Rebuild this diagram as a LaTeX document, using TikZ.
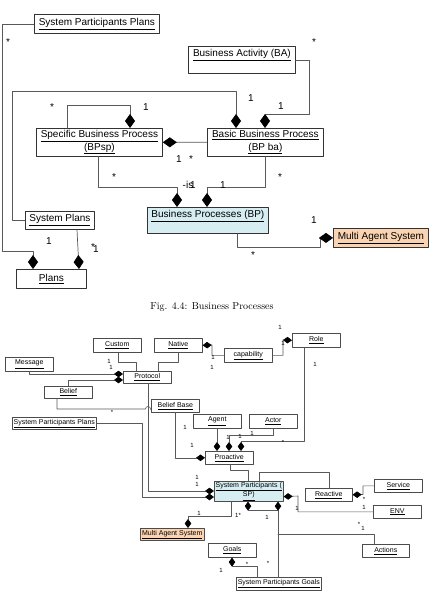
\documentclass[tikz,border=0pt]{standalone}
\usepackage{fontspec}
\newfontfamily\umlfont{Liberation Sans}
\usepackage{tikz}
\usetikzlibrary{arrows.meta}
\usetikzlibrary{calc}
\definecolor{spcyan}{rgb}{0.84,0.93,0.95}
\definecolor{masorange}{rgb}{0.98,0.83,0.70}
\definecolor{linegray}{rgb}{0.35,0.35,0.35}

\tikzset{
	bigbox/.style={draw=black!80, line width=0.8pt, anchor=north west, inner sep=2pt, align=center, font=\umlfont\fontsize{10}{12.5}\selectfont},
	smallbox/.style={draw=black!70, line width=0.6pt, anchor=north west, inner sep=1pt, align=center, minimum width=48pt, minimum height=14pt, font=\umlfont\fontsize{7}{8.5}\selectfont},
	toptext/.style={text height=8pt, text depth=#1},
	biglink/.style={draw=linegray, line width=0.7pt},
	smalllink/.style={draw=linegray, line width=0.6pt},
	bigagg/.style={biglink, -{Diamond[length=14pt, width=10pt, color=black]}},
	smallagg/.style={smalllink, -{Diamond[length=9pt, width=6.5pt, color=black]}},
	biglbl/.style={inner sep=0pt, font=\umlfont\fontsize{10}{12}\selectfont},
	smalllbl/.style={inner sep=0pt, font=\umlfont\fontsize{6}{7}\selectfont}
}

\begin{document}
\begin{tikzpicture}[line cap=round, line join=round, x=1pt, y=-1pt]
	\useasboundingbox (0,0) rectangle (431,594);
	% business processes
	\node[bigbox, minimum width=125pt, minimum height=19pt] (spp) at (34,14) {\underline{System Participants Plans}};
	\node[bigbox, toptext=15pt, minimum width=107pt, minimum height=27pt] (ba) at (188,46) {\underline{Business Activity (BA)}};
	\node[bigbox, minimum width=126pt, minimum height=27pt] (bpsp) at (36,128) {\underline{Specific Business Process}\\\underline{(BPsp)}};
	\node[bigbox, minimum width=116pt, minimum height=27pt] (bpba) at (207,128) {\underline{Basic Business Process}\\\underline{(BP ba)}};
	\node[bigbox, fill=spcyan, toptext=14pt, minimum width=121pt, minimum height=26pt] (bp) at (147,207) {\underline{Business Processes (BP)}};
	\node[bigbox, fill=masorange, minimum width=95pt, minimum height=19pt] (mas) at (333,228) {\underline{Multi Agent System}};
	\node[bigbox, minimum width=69pt, minimum height=18pt] (sysplans) at (25,211) {\underline{System Plans}};
	\node[bigbox, minimum width=70pt, minimum height=19pt] (plans) at (16,269) {\underline{Plans}};

	\draw[bigagg] (spp.west) -| (2,251) -| ($(plans.north west)+(17,0)$);
	\draw[bigagg] (ba.east) -| (309,114) -| ($(bpba.north west)+(58,0)$);
	\draw[bigagg] (sysplans.west) -| (12,91) -| ($(bpba.north west)+(29,0)$);
	\draw[bigagg] ($(bpsp.north west)+(31,0)$) |- (130,105) -- ($(bpsp.north west)+(94,0)$);
	\draw[bigagg] (bpba.west) -- (bpsp.east);
	\draw[bigagg] ($(bpsp.south west)+(62,0)$) |- (177,187) -- ($(bp.north west)+(30,0)$);
	\draw[bigagg] ($(bpba.south west)+(58,0)$) |- (207,187) -- ($(bp.north west)+(60,0)$);
	\draw[bigagg] ($(bp.south west)+(90,0)$) |- (320,247) |- (mas.west);
	\draw[bigagg] ($(sysplans.south west)+(52,0)$) -- ($(plans.north west)+(63,0)$);

	\foreach \px/\py/\t [count=\i] in {8/42/*, 314/42/*, 281/106/1, 251/98/1, 52/107/*, 146/107/1, 179/159/1, 191/159/*, 114/177/*, 188/185/-is, 193/185/1, 280/177/*, 223/185/1, 253/255/*, 314/220/1, 49/241/1, 93/247/*, 96/249/1}
	\node[biglbl] (tl\i) at (\px,\py) {\t};

	\node[font=\fontsize{10}{12}\selectfont] (figcap) at (212,307) {Fig. 4.4: Business Processes};

	% system participants
	\node[smallbox] (custom) at (93,338) {\underline{Custom}};
	\node[smallbox] (native) at (154,338) {\underline{Native}};
	\node[smallbox] (message) at (5,357) {\underline{Message}};
	\node[smallbox, minimum height=12pt] (protocol) at (123,371) {\underline{Protocol}};
	\node[smallbox, minimum height=12pt] (belief) at (44,386) {\underline{Belief}};
	\node[smallbox, minimum height=13pt] (bbase) at (151,399) {\underline{Belief Base}};
	\node[smallbox, minimum width=84pt, minimum height=12pt] (spplans) at (12,417) {\underline{System Participants Plans}};
	\node[smallbox] (capab) at (224,348) {\underline{capability}};
	\node[smallbox] (role) at (292,333) {\underline{Role}};
	\node[smallbox] (agent) at (193,414) {\underline{Agent}};
	\node[smallbox] (actor) at (249,414) {\underline{Actor}};
	\node[smallbox, minimum height=13pt] (proactive) at (205,451) {\underline{Proactive}};
	\node[smallbox, fill=spcyan, minimum width=69pt, minimum height=20pt] (sp) at (214,481) {\underline{System Participants (}\\\underline{SP)}};
	\node[smallbox, minimum width=47pt, minimum height=13pt] (reactive) at (305,488) {\underline{Reactive}};
	\node[smallbox, minimum height=13pt] (service) at (374,479) {\underline{Service}};
	\node[smallbox, minimum height=13pt] (env) at (373,505) {\underline{ENV}};
	\node[smallbox, minimum width=47pt, minimum height=13pt] (actions) at (362,544) {\underline{Actions}};
	\node[smallbox, fill=masorange, minimum width=64pt, minimum height=12pt] (mas2) at (140,528) {\underline{Multi Agent System}};
	\node[smallbox] (goals) at (208,543) {\underline{Goals}};
	\node[smallbox, minimum width=85pt, minimum height=13pt] (spgoals) at (236,577) {\underline{System Participants Goals}};

	\draw[smalllink] ($(custom.south west)+(25,0)$) |- (136,362) -- ($(protocol.north west)+(13,0)$);
	\draw[smalllink] ($(native.south west)+(24,0)$) |- (158,362) -- ($(protocol.north west)+(35,0)$);
	\draw[smallagg] ($(message.south west)+(24,0)$) |- ($(protocol.north west)+(0,3)$);
	\draw[smallagg] ($(belief.north west)+(24,0)$) |- ($(protocol.north west)+(0,9)$);
	\draw[smalllink] ($(belief.south west)+(13,0)$) |- (145.5,409) arc[start angle=180, end angle=0, radius=2.5pt] -- ($(bbase.south west)+(0,-3)$);
	\draw[smallagg] ($(protocol.south west)+(25,0)$) |- ($(sp.north west)+(0,10)$);
	\draw[smallagg] (spplans.east) -| (142,497) -- ($(sp.north west)+(0,16)$);
	\draw[smallagg] ($(bbase.south west)+(24,0)$) |- (proactive.west);
	\draw[smallagg] ($(agent.south west)+(24,0)$) -- ($(proactive.north west)+(12,0)$);
	\draw[smallagg] ($(actor.south west)+(24,0)$) |- (229,435) -- ($(proactive.north west)+(24,0)$);
	\draw[smallagg] ($(role.south west)+(12,0)$) |- (241,441) -- ($(proactive.north west)+(36,0)$);
	\draw[smalllink] ($(proactive.south west)+(25,0)$) |- (248,470) -- ($(sp.north west)+(34,0)$);
	\draw[smalllink] ($(sp.north west)+(45,0)$) |- (329,472) -- ($(reactive.north west)+(24,0)$);
	\draw[smallagg] (env.west) -| (298,496) -- ($(sp.south east)+(0,-5)$);
	\draw[smallagg] (service.west) -| (363,494.5) -- (reactive.east);
	\draw[smallagg] ($(sp.south west)+(17,0)$) |- (188,516) -- ($(mas2.north west)+(48,0)$);
	\draw[smallagg] ($(sp.south west)+(64,9)$) -| ($(sp.south west)+(34,0)$);
	\draw[smallagg] ($(spgoals.north west)+(42,0)$) -- ($(sp.south west)+(64,0)$);
	\draw[smalllink] ($(actions.north west)+(12,0)$) |- (278,534);
	\draw[smallagg] ($(spgoals.north west)+(21,0)$) |- (232,566) -- ($(goals.south west)+(24,0)$);
	\draw[smallagg] (capab.west) -| (212,345) -- (native.east);
	\draw[smallagg] (capab.east) -| (283,340) -- (role.west);

	\foreach \px/\py/\t [count=\i] in {109/361/1, 111/367/1, 112/412/*, 213/357/1, 212/367/1, 280/327/1, 283/343/1, 315/364/1, 185/427/1, 192/445/1, 228/437/1, 240/436/1, 252/433/1, 283/442/*, 197/477/1, 197/484/1, 297/508/1, 364/507/1, 364/499/*, 199/513/1, 238/515/1*, 267/517/1, 359/524/*, 363/528/1, 268/563/*, 221/570/1, 247/564/*}
	\node[smalllbl] (bl\i) at (\px,\py) {\t};
\end{tikzpicture}
\end{document}
